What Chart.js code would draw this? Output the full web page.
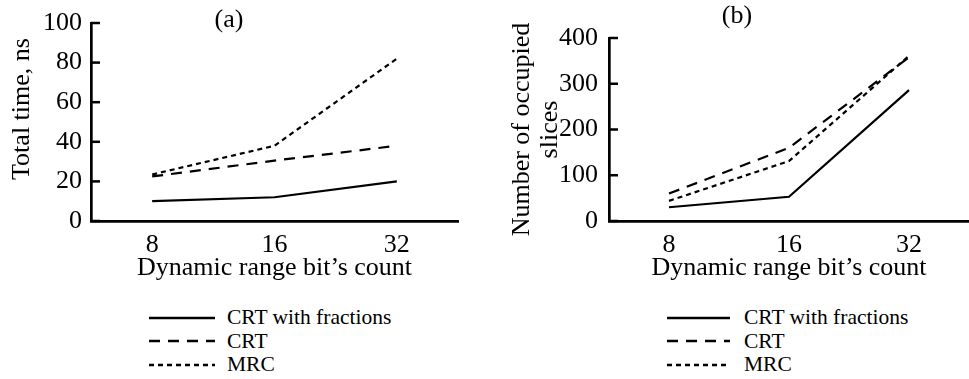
<!DOCTYPE html>
<html>
<head>
<meta charset="utf-8">
<script src="https://cdn.jsdelivr.net/npm/chart.js@4.4.1/dist/chart.umd.min.js"></script>
<style>
  body { margin: 0; background: #fff; width: 969px; height: 379px; overflow: hidden; position: relative; font-family: 'Liberation Serif', serif; }
  canvas { position: absolute; top: 0; }
  .legend { position: absolute; top: 306px; }
  .legend .row { height: 23.5px; display: flex; align-items: center; font-size: 21.5px; color: #000; white-space: nowrap; }
  .legend svg { display: block; }
</style>
</head>
<body>
<canvas id="chartA" width="470" height="296" style="left:0;width:470px;height:296px"></canvas>
<canvas id="chartB" width="464" height="296" style="left:505px;width:464px;height:296px"></canvas>
<div class="legend" id="legendA" style="left:149px"></div>
<div class="legend" id="legendB" style="left:667px"></div>
<script>
// data
var bits = ['8', '16', '32'];
var seriesNames = ['CRT with fractions', 'CRT', 'MRC'];
var timeFrac = [10, 12, 20];
var timeCrt = [22.5, 30.5, 38];
var timeMrc = [23.5, 38, 82];
var slicesFrac = [30, 53, 286];
var slicesCrt = [60, 160, 358];
var slicesMrc = [44, 131, 361];
var timeTicks = [0, 20, 40, 60, 80, 100];
var sliceTicks = [0, 100, 200, 300, 400];

var FONT = 'Liberation Serif';
var dashes = [[], [11, 8], [5, 4]];

// small tick marks pointing into the plot
var innerTicks = {
  id: 'innerTicks',
  afterDraw: function(chart) {
    var y = chart.scales.y, ctx = chart.ctx;
    var x0 = chart.chartArea.left;
    ctx.save();
    ctx.strokeStyle = '#000';
    ctx.lineWidth = 2.5;
    y.ticks.forEach(function(t) {
      var py = y.getPixelForValue(t.value);
      ctx.beginPath();
      ctx.moveTo(x0, py);
      ctx.lineTo(x0 + 9, py);
      ctx.stroke();
    });
    ctx.restore();
  }
};

function makeSets(a, b, c) {
  return [a, b, c].map(function(d, i) {
    return {
      label: seriesNames[i],
      data: d,
      borderColor: '#000',
      borderWidth: 2.2,
      borderDash: dashes[i],
      pointRadius: 0,
      fill: false,
      tension: 0
    };
  });
}

function makeChart(id, o) {
  return new Chart(document.getElementById(id), {
    type: 'line',
    data: { labels: bits, datasets: o.sets },
    plugins: [innerTicks],
    options: {
      responsive: false,
      animation: false,
      layout: { padding: { right: o.padRight } },
      plugins: {
        legend: { display: false },
        tooltip: { enabled: false },
        title: {
          display: true,
          text: o.title,
          color: '#000',
          font: { family: FONT, size: 26, weight: 'normal', lineHeight: 1 },
          padding: o.titlePad
        }
      },
      scales: {
        x: {
          offset: true,
          grid: { display: false, drawTicks: false },
          border: { display: true, color: '#000', width: 2.7 },
          ticks: { color: '#000', padding: 11, maxRotation: 0, font: { family: FONT, size: 26, lineHeight: 1 } },
          title: {
            display: true,
            text: 'Dynamic range bit\u2019s count',
            color: '#000',
            font: { family: FONT, size: 26, lineHeight: 1 },
            padding: { top: -14, bottom: 15 }
          }
        },
        y: {
          min: 0,
          max: o.max,
          afterBuildTicks: function(s) { s.ticks = o.ticks.map(function(v) { return { value: v }; }); },
          grid: { display: false, drawTicks: false },
          border: { display: true, color: '#000', width: 2.7 },
          ticks: { color: '#000', padding: o.tickPad, font: { family: FONT, size: 26, lineHeight: 1 } },
          title: {
            display: true,
            text: o.yTitle,
            color: '#000',
            font: { family: FONT, size: 26, lineHeight: o.yLine },
            padding: o.yTitlePad
          }
        }
      }
    }
  });
}

function buildLegend(chart, elId, sampleW, gap) {
  var el = document.getElementById(elId);
  chart.data.datasets.forEach(function(ds) {
    var row = document.createElement('div');
    row.className = 'row';
    var svg = '<svg width="' + sampleW + '" height="20"><line x1="0" y1="10" x2="' + sampleW +
      '" y2="10" stroke="#000" stroke-width="2.5" stroke-dasharray="' + (ds.borderDash.length ? ds.borderDash.join(',') : 'none') + '"/></svg>';
    row.innerHTML = svg + '<span style="margin-left:' + gap + 'px">' + ds.label + '</span>';
    el.appendChild(row);
  });
}

var chartA = makeChart('chartA', {
  sets: makeSets(timeFrac, timeCrt, timeMrc),
  title: '(a)',
  titlePad: { top: 7, bottom: -10 },
  padRight: 12,
  max: 100,
  ticks: timeTicks,
  tickPad: 9,
  // leading space nudges the label up the axis like in the figure
  yTitle: '\u2003Total time, ns',
  yLine: 1,
  yTitlePad: { top: 9, bottom: -1 }
});

var chartB = makeChart('chartB', {
  sets: makeSets(slicesFrac, slicesCrt, slicesMrc),
  title: '(b)',
  titlePad: { top: 3, bottom: 9 },
  padRight: 0,
  max: 400,
  ticks: sliceTicks,
  tickPad: 11,
  yTitle: ['Number of occupied', 'slices'],
  yLine: 28 / 26,
  yTitlePad: { top: 3, bottom: -16 }
});

buildLegend(chartA, 'legendA', 66, 12);
buildLegend(chartB, 'legendB', 63, 14);
</script>
</body>
</html>
